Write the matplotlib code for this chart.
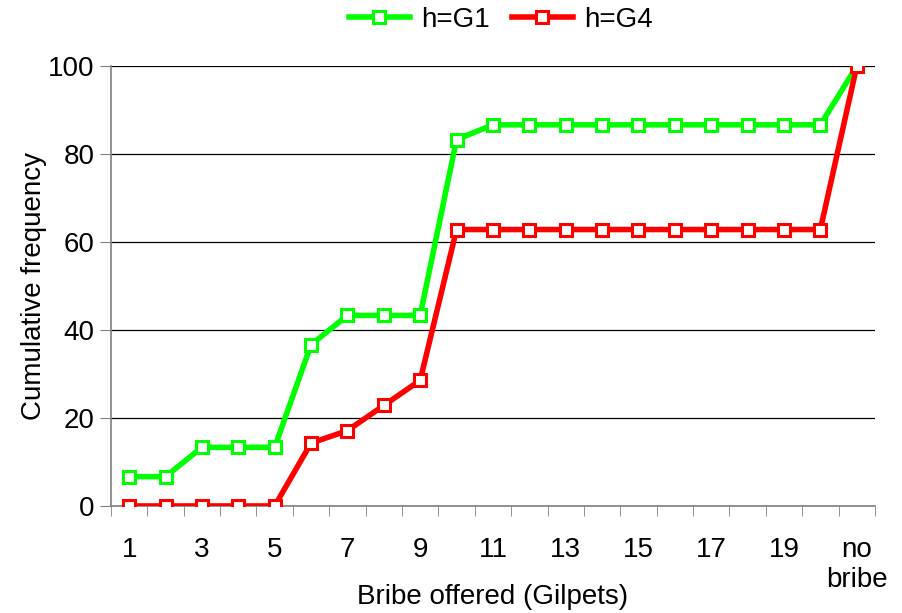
import numpy as np
import matplotlib
matplotlib.use('Agg')
import matplotlib.pyplot as plt

plt.rcParams['font.family'] = ['Liberation Sans', 'DejaVu Sans']

categories = [str(i) for i in range(1, 21)] + ["no\nbribe"]
tick_labels = ["1", "3", "5", "7", "9", "11", "13", "15", "17", "19", "no\nbribe"]

g1 = [6.67, 6.67, 13.33, 13.33, 13.33, 36.67, 43.33, 43.33, 43.33, 83.33,
      86.67, 86.67, 86.67, 86.67, 86.67, 86.67, 86.67, 86.67, 86.67, 86.67, 100]
g4 = [0, 0, 0, 0, 0, 14.29, 17.14, 22.86, 28.57, 62.86,
      62.86, 62.86, 62.86, 62.86, 62.86, 62.86, 62.86, 62.86, 62.86, 62.86, 100]

x = np.arange(len(categories))

fig = plt.figure(figsize=(9.02, 6.13), dpi=100)
ax = fig.add_axes([0.123, 0.1746, 0.847, 0.7174])

ax.plot(x, g1, color="#00ff00", linewidth=4, marker="s", markersize=9,
        markerfacecolor="white", markeredgecolor="#00ff00", markeredgewidth=2.2,
        label="h=G1", zorder=3)
ax.plot(x, g4, color="#ff0000", linewidth=4, marker="s", markersize=9,
        markerfacecolor="white", markeredgecolor="#ff0000", markeredgewidth=2.2,
        label="h=G4", zorder=4)

ax.set_xlim(-0.5, len(categories) - 0.5)
ax.set_ylim(0, 100)
ax.set_yticks(np.arange(0, 101, 20))
ax.grid(True, axis="y", color="black", linewidth=0.9)
ax.set_axisbelow(True)

ax.set_xticks(x[::2])
ax.set_xticklabels(tick_labels)
ax.set_xticks(np.arange(-0.5, len(categories)), minor=True)
ax.tick_params(axis="x", which="major", length=0, pad=22, labelsize=20)
ax.tick_params(axis="x", which="minor", length=7, color="#808080", direction="out")
ax.tick_params(axis="y", length=8, color="#808080", labelsize=20, pad=4)

for s in ["top", "right"]:
    ax.spines[s].set_visible(False)
for s in ["left", "bottom"]:
    ax.spines[s].set_color("#808080")
    ax.spines[s].set_linewidth(1.2)

ax.set_ylabel("Cumulative frequency", fontsize=20)
ax.yaxis.set_label_coords(-0.084, 0.5)
ax.set_xlabel("Bribe offered (Gilpets)", fontsize=20)
ax.xaxis.set_label_coords(0.5, -0.178)

fig.legend(loc="upper center", bbox_to_anchor=(0.555, 1.03), ncol=2, frameon=False,
           fontsize=20, handlelength=2.2, columnspacing=0.8, handletextpad=0.4)

fig.savefig("out.png", dpi=100)
